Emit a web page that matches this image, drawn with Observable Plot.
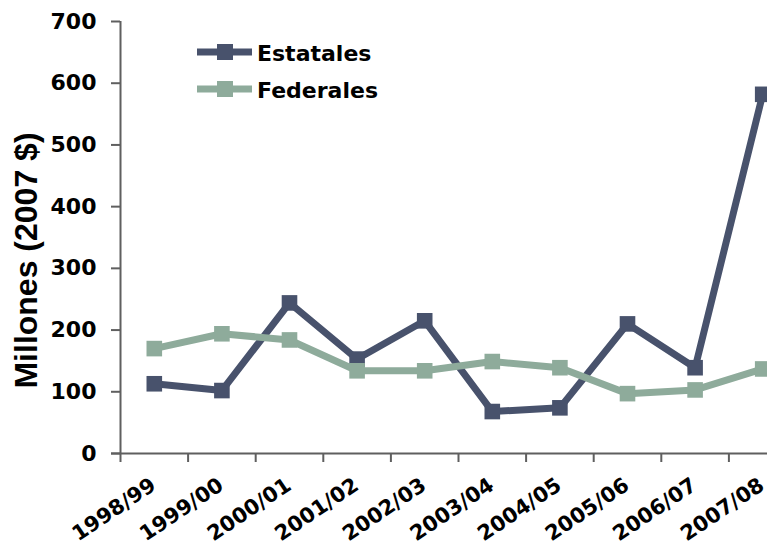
<!DOCTYPE html>
<html>
<head>
<meta charset="utf-8">
<script src="https://cdn.jsdelivr.net/npm/d3@7"></script>
<script src="https://cdn.jsdelivr.net/npm/@observablehq/plot@0.6"></script>
<style>
  html, body { margin: 0; padding: 0; background: #fff; overflow: hidden; }
  #wrap { position: relative; width: 767px; height: 548px; overflow: hidden; }
  #legend { position: absolute; left: 0; top: 0; }
</style>
</head>
<body>
<div id="wrap"></div>
<script>
const categories = ["1998/99","1999/00","2000/01","2001/02","2002/03","2003/04","2004/05","2005/06","2006/07","2007/08"];
const estatales = [113, 102, 244, 153, 215, 68, 74, 210, 139, 582];
const federales = [170, 194, 184, 134, 134, 149, 139, 97, 103, 137];
const yTicks = [0, 100, 200, 300, 400, 500, 600, 700];
const seriesNames = ["Estatales", "Federales"];
const seriesColors = ["#48526c", "#8eab9b"];
const yTitle = "Millones (2007 $)";

const seriesValues = [estatales, federales];
const rows = seriesNames.map((name, s) =>
  categories.map((c, i) => ({series: name, cat: c, i: i + 0.5, v: seriesValues[s][i]}))
);

const axisColor = "#5f5f5f";
const tickFont = "DejaVu Sans, sans-serif";

const marks = [
  Plot.ruleX([0], {y1: 0, y2: 700, stroke: axisColor, strokeWidth: 2}),
  Plot.ruleY([0], {stroke: axisColor, strokeWidth: 2, insetLeft: -9}),
  Plot.axisY({ticks: yTicks, tickSize: 9, tickPadding: 15, stroke: axisColor, strokeWidth: 2,
    fill: "black", fontSize: 22, fontWeight: "bold", fontFamily: tickFont, label: null}),
  Plot.axisX({ticks: d3.range(categories.length + 1), tickSize: 9, tickFormat: () => "",
    stroke: axisColor, strokeWidth: 2, label: null}),
  Plot.text(categories, {x: (d, i) => i + 0.5, frameAnchor: "bottom", text: d => d,
    textAnchor: "end", lineAnchor: "bottom", rotate: -34, dx: 3, dy: 35,
    fontSize: 21, fontWeight: "bold", fontFamily: tickFont, fill: "black"}),
  Plot.text([yTitle], {frameAnchor: "left", text: d => d, textAnchor: "middle", lineAnchor: "middle",
    rotate: -90, dx: -94, dy: 23,
    fontSize: 32, fontWeight: "bold", fontFamily: "Liberation Sans, Arial, sans-serif", fill: "black"})
];
rows.forEach((data, s) => {
  marks.push(Plot.line(data, {x: "i", y: "v", stroke: seriesColors[s], strokeWidth: 7, strokeLinejoin: "miter"}));
  marks.push(Plot.dot(data, {x: "i", y: "v", symbol: "square", r: 8.8, fill: seriesColors[s], stroke: "none"}));
});

const chart = Plot.plot({
  width: 767,
  height: 548,
  marginLeft: 120,
  marginRight: 0,
  marginTop: 21,
  marginBottom: 95,
  style: {background: "white", color: "black", overflow: "hidden"},
  x: {type: "linear", domain: [0, categories.length], range: [120, 796], axis: null},
  y: {domain: [0, 700], axis: null},
  marks
});
const wrap = document.getElementById("wrap");
wrap.appendChild(chart);

// legend overlay
const leg = d3.select(wrap).append("svg").attr("id", "legend").attr("width", 767).attr("height", 130);
seriesNames.forEach((name, s) => {
  const g = leg.append("g").attr("transform", `translate(197, ${52 + s * 37})`);
  g.append("line").attr("x1", 0).attr("x2", 55).attr("y1", 0).attr("y2", 0)
    .attr("stroke", seriesColors[s]).attr("stroke-width", 7);
  g.append("rect").attr("x", 20).attr("y", -8).attr("width", 16).attr("height", 16).attr("fill", seriesColors[s]);
  g.append("text").attr("x", 60).attr("y", 9).text(name)
    .attr("font-family", tickFont).attr("font-weight", "bold").attr("font-size", 22).attr("fill", "black");
});
</script>
</body>
</html>
